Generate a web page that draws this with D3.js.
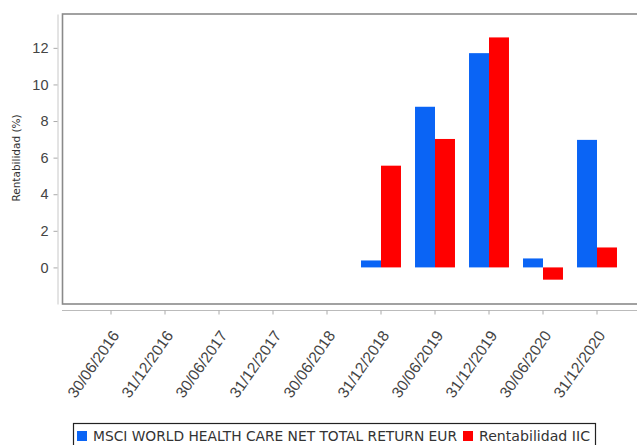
<!DOCTYPE html>
<head>
    <meta charset="utf-8">
    <script src="https://d3js.org/d3.v7.min.js"></script>
    <style>
        body { margin: 0; background: #fff; font-family: "DejaVu Sans", sans-serif; }
        .tick text { fill: #444; }
    </style>
</head>
<body>
<div id="chart"></div>
<script>
    // periods on the x axis
    var periods = ['30/06/2016', '31/12/2016', '30/06/2017', '31/12/2017', '30/06/2018',
        '31/12/2018', '30/06/2019', '31/12/2019', '30/06/2020', '31/12/2020'];
    var seriesNames = ['MSCI WORLD HEALTH CARE NET TOTAL RETURN EUR', 'Rentabilidad IIC'];
    var msci = [null, null, null, null, null, 0.38, 8.78, 11.71, 0.49, 6.97];
    var iic = [null, null, null, null, null, 5.56, 7.02, 12.57, -0.67, 1.09];
    var yTicks = [0, 2, 4, 6, 8, 10, 12];
    var colours = ['#0a64f5', '#ff0000'];

    var width = 637, height = 445;

    var svg = d3.select('#chart').append('svg')
        .attr('width', width)
        .attr('height', height);

    var x = d3.scaleBand()
        .domain(periods)
        .range([84, 624])
        .paddingInner(0.26)
        .paddingOuter(0.13);

    var xs = d3.scaleBand()
        .domain(seriesNames)
        .range([0, x.bandwidth()]);

    var y = d3.scaleLinear()
        .domain([-2, 13.85])
        .range([304, 14]);

    // plot frame (its right side runs off the picture)
    svg.append('rect')
        .attr('x', 62.5)
        .attr('y', 14)
        .attr('width', 700)
        .attr('height', 290)
        .attr('fill', 'none')
        .attr('stroke', '#8a8a8a')
        .attr('stroke-width', 1.6);

    // y axis
    var yAxis = svg.append('g')
        .attr('transform', 'translate(57.5,0)')
        .call(d3.axisLeft(y).tickValues(yTicks).tickSize(4).tickSizeOuter(0).tickPadding(5));
    yAxis.select('.domain').attr('stroke', '#c8c8c8');
    yAxis.selectAll('.tick line').attr('stroke', '#aaa');
    yAxis.selectAll('.tick text').style('font-size', '14.5px');

    svg.append('text')
        .attr('transform', 'translate(20,158) rotate(-90)')
        .style('text-anchor', 'middle')
        .style('font-size', '10.5px')
        .style('fill', '#333')
        .text('Rentabilidad (%)');

    // x axis
    var xAxis = svg.append('g')
        .attr('transform', 'translate(0,310.5)')
        .call(d3.axisBottom(x).tickSize(4).tickSizeOuter(0));
    xAxis.select('.domain').attr('stroke', '#bbb').attr('d', 'M62,0H640');
    xAxis.selectAll('.tick line').attr('stroke', '#aaa');
    xAxis.selectAll('.tick text')
        .style('font-size', '15.5px')
        .style('text-anchor', 'end')
        .attr('dy', 0)
        .attr('y', 0)
        .attr('transform', 'translate(9,25) rotate(-55)');

    // bars
    var rows = periods.map((p, i) => ({ period: p, values: [msci[i], iic[i]] }));
    var groups = svg.selectAll('g.group')
        .data(rows)
        .enter()
        .append('g')
        .attr('class', 'group')
        .attr('transform', d => `translate(${x(d.period)},0)`);

    groups.selectAll('rect')
        .data(d => d.values.map((v, j) => ({ name: seriesNames[j], value: v, j: j }))
            .filter(e => e.value !== null))
        .enter()
        .append('rect')
        .attr('x', d => xs(d.name))
        .attr('width', xs.bandwidth())
        .attr('y', d => y(Math.max(0, d.value)))
        .attr('height', d => Math.abs(y(d.value) - y(0)))
        .style('fill', d => colours[d.j]);

    // legend
    var legend = svg.append('g');
    legend.append('rect')
        .attr('x', 73.5)
        .attr('y', 423.5)
        .attr('width', 522)
        .attr('height', 40)
        .attr('fill', '#fff')
        .attr('stroke', '#222')
        .attr('stroke-width', 1.2);

    var legendItems = [
        { name: seriesNames[0], colour: colours[0], sx: 77, tx: 93, len: 364 },
        { name: seriesNames[1], colour: colours[1], sx: 463, tx: 479, len: 111 }
    ];
    legendItems.forEach(d => {
        legend.append('rect')
            .attr('x', d.sx)
            .attr('y', 431)
            .attr('width', 10)
            .attr('height', 10)
            .style('fill', d.colour);
        legend.append('text')
            .attr('x', d.tx)
            .attr('y', 441)
            .attr('textLength', d.len)
            .attr('lengthAdjust', 'spacingAndGlyphs')
            .style('font-size', '13.5px')
            .style('fill', '#333')
            .text(d.name);
    });
</script>
</body>
